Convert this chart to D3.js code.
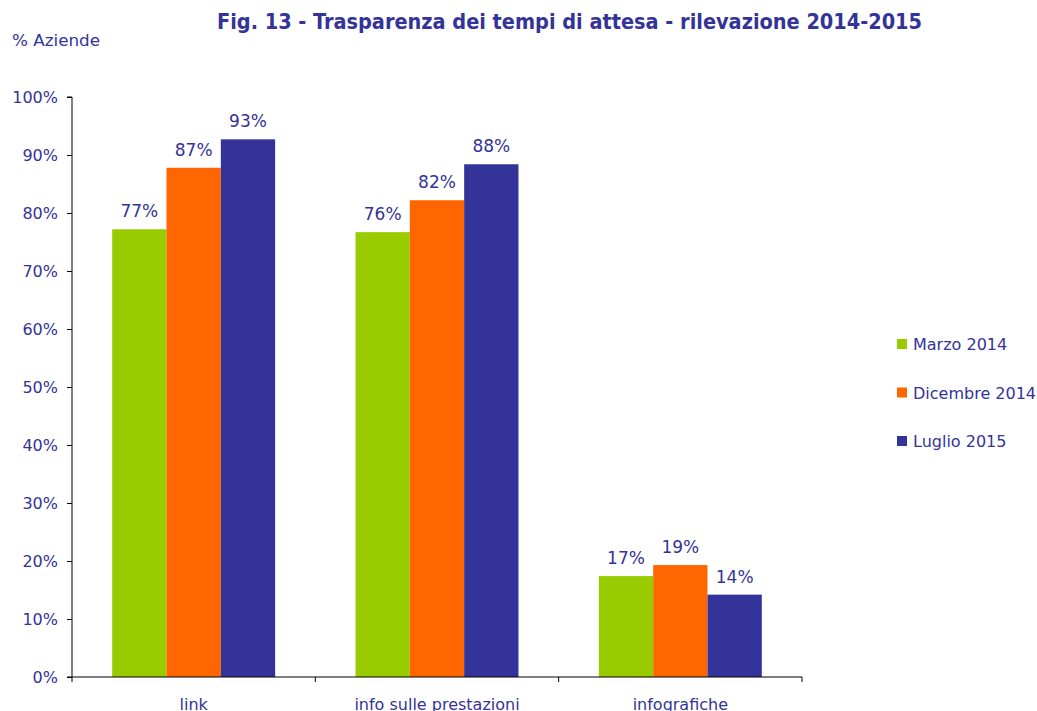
<!DOCTYPE html>
<html>
<head>
<meta charset="utf-8"/>
<title>Fig. 13</title>
<script src="https://d3js.org/d3.v7.min.js"></script>
<style>
  body { margin:0; background:#fff; }
  svg text { font-family: "DejaVu Sans", Verdana, sans-serif; fill:#333399; }
</style>
</head>
<body>
<div id="chart"></div>
<script>
// data
var categories = ["link", "info sulle prestazioni", "infografiche"];
var seriesNames = ["Marzo 2014", "Dicembre 2014", "Luglio 2015"];
var marzo2014 = [77.2, 76.7, 17.4];
var dicembre2014 = [87.8, 82.2, 19.3];
var luglio2015 = [92.7, 88.4, 14.2];
var labelsMarzo = ["77%", "76%", "17%"];
var labelsDicembre = ["87%", "82%", "19%"];
var labelsLuglio = ["93%", "88%", "14%"];
var yTicks = [0, 10, 20, 30, 40, 50, 60, 70, 80, 90, 100];
var colors = ["#99cc00", "#ff6600", "#333399"];

var series = [marzo2014, dicembre2014, luglio2015];
var seriesLabels = [labelsMarzo, labelsDicembre, labelsLuglio];

var W = 1037, H = 711;
var mLeft = 72, mRight = 802, mTop = 97, mBottom = 677;

var svg = d3.select("#chart").append("svg")
  .attr("width", W).attr("height", H);

var x = d3.scaleBand().domain(categories).range([mLeft, mRight]).paddingInner(0).paddingOuter(0);
var xs = d3.scaleBand().domain(d3.range(seriesNames.length))
  .range([0, x.bandwidth()]).paddingOuter(0.74).paddingInner(0);
var y = d3.scaleLinear().domain([0, 100]).range([mBottom, mTop]);

// title
svg.append("text")
  .attr("x", 217).attr("y", 29)
  .attr("textLength", 705).attr("lengthAdjust", "spacingAndGlyphs")
  .style("font-family", "'DejaVu Sans Condensed', 'DejaVu Sans', sans-serif")
  .style("font-weight", "bold")
  .style("font-size", "21px")
  .text("Fig. 13 - Trasparenza dei tempi di attesa - rilevazione 2014-2015");

svg.append("text")
  .attr("x", 12).attr("y", 46)
  .attr("textLength", 88).attr("lengthAdjust", "spacingAndGlyphs")
  .style("font-size", "16px")
  .text("% Aziende");

// y axis
var yAxis = d3.axisLeft(y).tickValues(yTicks).tickSize(5).tickPadding(9)
  .tickFormat(function(d){ return d + "%"; });
var gy = svg.append("g").attr("transform", "translate(" + mLeft + ",0)").call(yAxis);
gy.select(".domain").attr("stroke", "#000").attr("d", "M-5," + mTop + "H0V" + mBottom + "H-5");
gy.selectAll(".tick line").attr("stroke", "#000");
gy.selectAll(".tick text").style("font-size", "16px").attr("fill", "#333399")
  .style("font-family", "'DejaVu Sans', sans-serif");

// bars
var groups = svg.selectAll("g.cat").data(categories).enter().append("g")
  .attr("class", "cat")
  .attr("transform", function(d){ return "translate(" + x(d) + ",0)"; });

series.forEach(function(vals, s) {
  groups.append("rect")
    .attr("x", xs(s))
    .attr("width", xs.bandwidth())
    .attr("y", function(d, i){ return y(vals[i]); })
    .attr("height", function(d, i){ return y(0) - y(vals[i]); })
    .attr("fill", colors[s]);
  groups.append("text")
    .attr("x", xs(s) + xs.bandwidth() / 2)
    .attr("y", function(d, i){ return y(vals[i]) - 12; })
    .attr("text-anchor", "middle")
    .style("font-size", "17px")
    .text(function(d, i){ return seriesLabels[s][i]; });
});

// x axis
var xAxis = d3.axisBottom(x).tickSize(0).tickPadding(22);
var gx = svg.append("g").attr("transform", "translate(0," + mBottom + ")").call(xAxis);
gx.select(".domain").attr("stroke", "#000").attr("d", "M" + mLeft + ",0H" + mRight);
gx.selectAll(".tick text").style("font-size", "16px").attr("fill", "#333399")
  .style("font-family", "'DejaVu Sans', sans-serif").attr("dy", "0.71em");
var sep = categories.map(function(c){ return x(c); }).concat([mRight]);
gx.selectAll("line.sep").data(sep).enter().append("line")
  .attr("class", "sep")
  .attr("x1", function(d){ return d; }).attr("x2", function(d){ return d; })
  .attr("y1", 0).attr("y2", 5).attr("stroke", "#000");

// legend
var legend = svg.append("g").attr("transform", "translate(897,0)");
seriesNames.forEach(function(n, i) {
  var cy = 344 + i * 48.5;
  legend.append("rect").attr("x", 0).attr("y", cy - 5).attr("width", 10).attr("height", 10)
    .attr("fill", colors[i]);
  legend.append("text").attr("x", 16).attr("y", cy + 6)
    .style("font-size", "16px").text(n);
});
</script>
</body>
</html>
